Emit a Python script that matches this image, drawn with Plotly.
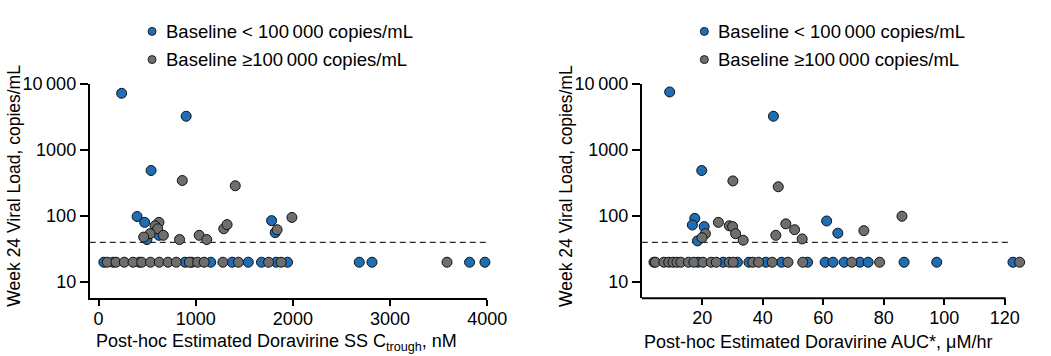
import plotly.graph_objects as go

# ---------------- data ----------------
# Left panel: Ctrough (nM) vs Week 24 viral load (copies/mL)
ct_low_x = [238, 902, 541, 397, 475, 498, 622, 1781, 1818,
            55, 150, 420, 890, 960, 1155, 1375, 1541, 1677, 1828, 1945, 2683, 2814, 3818, 3976]
ct_low_y = [7130, 3210, 486, 98, 80, 44, 51, 85, 56,
            20, 20, 20, 20, 20, 20, 20, 20, 20, 20, 20, 20, 20, 20, 20]
ct_high_x = [862, 1407, 622, 582, 609, 531, 465, 667, 834, 1036, 1114, 1289, 1323, 1838, 1990,
             90, 180, 265, 355, 445, 535, 625, 715, 800, 935, 1020, 1087, 1280, 1440, 1750, 1879, 3586]
ct_high_y = [343, 286, 80, 71, 64, 54, 48, 51, 44, 51, 44, 64, 74, 62, 95,
             20, 20, 20, 20, 20, 20, 20, 20, 20, 20, 20, 20, 20, 20, 20, 20, 20]

# Right panel: AUC (uM/hr) vs Week 24 viral load
auc_low_x = [9.2, 43.5, 19.8, 17.5, 16.7, 20.6, 18.4, 61.1, 64.8,
             4.0, 18.6, 26.9, 31.6, 35.4, 41.0, 46.2, 54.8, 60.6, 63.2, 66.9, 72.1, 74.8, 86.7, 97.5, 122.7]
auc_low_y = [7470, 3210, 486, 92, 73, 69, 42, 84, 55,
             20, 20, 20, 20, 20, 20, 20, 20, 20, 20, 20, 20, 20, 20, 20, 20]
auc_high_x = [30.1, 45.1, 25.3, 28.9, 30.0, 21.0, 19.9, 31.0, 33.5, 44.3, 47.6, 50.5, 53.0, 73.4, 86.0,
              4.5, 7.3, 8.9, 10.3, 11.6, 12.9, 15.4, 17.2, 20.2, 22.9, 24.6, 28.9, 30.2, 36.7, 38.6,
              43.1, 48.3, 53.2, 69.4, 78.6, 124.9]
auc_high_y = [338, 276, 80, 71, 69, 54, 47, 54, 43, 51, 76, 62, 45, 60, 99,
              20, 20, 20, 20, 20, 20, 20, 20, 20, 20, 20, 20, 20, 20, 20,
              20, 20, 20, 20, 20, 20]

lloq = 40
y_tickvals = [10, 100, 1000, 10000]
y_ticktext = ["10", "100", "1000", "10\u2009000"]
ct_ticks = [0, 1000, 2000, 3000, 4000]
auc_ticks = [20, 40, 60, 80, 100, 120]
auc_axis_end = 120
legend_labels = ["Baseline < 100\u2009000 copies/mL", "Baseline \u2265100\u2009000 copies/mL"]
y_title = "Week 24 Viral Load, copies/mL"
x_titles = ["Post-hoc Estimated Doravirine SS C<sub>trough</sub>, nM",
            "Post-hoc Estimated Doravirine AUC*, \u03bcM/hr"]

# ---------------- style ----------------
BLUE = "#1f6db5"
GRAY = "#6e6e6e"
FONT = "Liberation Sans, Arial, Helvetica, sans-serif"
W, H = 1051, 356


def px(x):
    """page pixel x -> paper fraction"""
    return x / W


def py(y):
    """page pixel y -> paper fraction"""
    return 1 - y / H


fig = go.Figure()


def add_series(x, y, color, xa, ya, name):
    fig.add_trace(go.Scatter(
        x=x, y=y, mode="markers", name=name, showlegend=False,
        xaxis=xa, yaxis=ya, cliponaxis=False, hoverinfo="skip",
        marker=dict(size=10, color=color, line=dict(color="#111111", width=1)),
    ))


add_series(ct_low_x, ct_low_y, BLUE, "x", "y", legend_labels[0])
add_series(ct_high_x, ct_high_y, GRAY, "x", "y", legend_labels[1])
add_series(auc_low_x, auc_low_y, BLUE, "x2", "y2", legend_labels[0])
add_series(auc_high_x, auc_high_y, GRAY, "x2", "y2", legend_labels[1])

ydom = [py(296.7), py(75.7)]
axis_common = dict(linecolor="black", linewidth=2, ticks="outside",
                   tickwidth=2, tickcolor="black", showgrid=False, zeroline=False,
                   tickfont=dict(family=FONT, size=18, color="black"))
x_common = dict(ticklen=6, ticklabelstandoff=-3, **axis_common)
y_common = dict(ticklen=8, type="log", range=[0.755, 4], tickvals=y_tickvals,
                ticktext=y_ticktext, showline=True, **axis_common)

# right panel: 120 units span 654.3 -> 1024.3 px; extend range a little so the
# two points beyond 120 remain visible, and draw the axis line only up to 120
auc_px_per_unit = (1024.3 - 654.3) / 120
auc_range_max = 126.5

fig.update_layout(
    width=W, height=H, autosize=False,
    margin=dict(l=0, r=0, t=0, b=0),
    paper_bgcolor="white", plot_bgcolor="white",
    font=dict(family=FONT, size=18, color="black"),
    xaxis=dict(domain=[px(91.5), px(496.7)], range=[-90, 4000], tickvals=ct_ticks,
               anchor="y", showline=True, **x_common),
    yaxis=dict(domain=ydom, anchor="x", **y_common),
    xaxis2=dict(domain=[px(654.3), px(654.3 + auc_range_max * auc_px_per_unit)],
                range=[0, auc_range_max], tickvals=auc_ticks,
                anchor="y2", showline=False, **x_common),
    yaxis2=dict(domain=ydom, anchor="x2", **y_common),
)

shapes = []
annotations = []
# right x-axis line (0 -> 120 only)
shapes.append(dict(type="line", xref="x2", yref="y2 domain", x0=-0.35, x1=auc_axis_end + 0.3,
                   y0=0, y1=0, line=dict(color="black", width=2), layer="above"))
# LLOQ dashed lines
shapes.append(dict(type="line", xref="x domain", yref="y", x0=0, x1=1, y0=lloq, y1=lloq,
                   line=dict(color="#2a2a2a", width=1.3, dash="6px,4px"), layer="below"))
shapes.append(dict(type="line", xref="x2", yref="y2", x0=0, x1=121.5, y0=lloq, y1=lloq,
                   line=dict(color="#2a2a2a", width=1.3, dash="6px,4px"), layer="below"))

# legends (marker + text), one per panel
legend_pos = [(155, 167), (718, 730)]
rows_y = [22, 51]
for (mx, tx) in legend_pos:
    for label, color, ry in zip(legend_labels, [BLUE, GRAY], rows_y):
        shapes.append(dict(type="circle", xref="paper", yref="paper",
                           xsizemode="pixel", ysizemode="pixel",
                           xanchor=px(mx), yanchor=py(ry),
                           x0=-4, x1=4, y0=-4, y1=4,
                           fillcolor=color, line=dict(color="#222222", width=1)))
        annotations.append(dict(text=label, xref="paper", yref="paper", x=px(tx), y=py(ry),
                                xanchor="left", yanchor="middle", showarrow=False,
                                font=dict(family=FONT, size=18.5, color="black")))

# axis titles
for cx in (14, 577):
    annotations.append(dict(text=y_title, xref="paper", yref="paper", x=px(cx), y=py(181),
                            xanchor="center", yanchor="middle", textangle=-90, showarrow=False,
                            font=dict(family=FONT, size=17.5, color="black")))
for title, cx in zip(x_titles, (282, 834)):
    annotations.append(dict(text=title, xref="paper", yref="paper", x=px(cx), y=py(342),
                            xanchor="center", yanchor="middle", showarrow=False,
                            font=dict(family=FONT, size=18, color="black")))

fig.update_layout(shapes=shapes, annotations=annotations)

# pin the graph to the page's top-left corner so page pixels == figure pixels
pin = ("document.body.style.margin='0';"
       "var d=document.getElementById('{plot_id}');"
       "d.style.position='absolute';d.style.left='0px';d.style.top='0px';")
fig.write_html("out.html", post_script=pin, config={"displayModeBar": False})
